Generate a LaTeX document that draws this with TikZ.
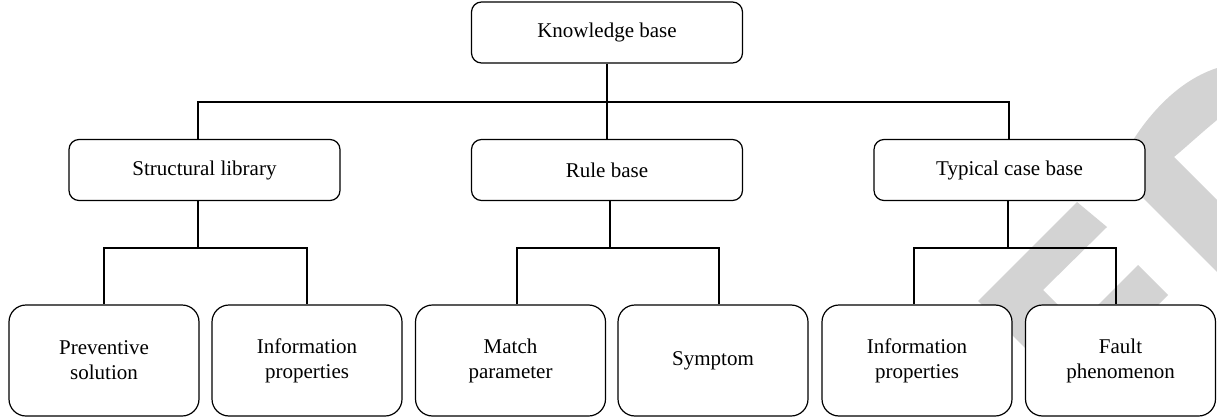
\documentclass[tikz,border=0pt]{standalone}
\usepackage{fontspec}
\setmainfont{Liberation Serif}
\definecolor{wmgray}{RGB}{211,211,211}
\begin{document}
\begin{tikzpicture}[x=1pt,y=-1pt,
  box/.style={draw, fill=white, line width=1.2pt, align=center, inner sep=0pt,
              font=\fontsize{21}{25}\selectfont},
  topbox/.style={box, rounded corners=10pt, minimum width=271pt, minimum height=61pt},
  leafbox/.style={box, rounded corners=17pt, minimum width=190pt, minimum height=111pt},
  link/.style={line width=1.2pt},
  wmshape/.style={fill=wmgray}
]
\useasboundingbox (0,0) rectangle (1217,417);

% publisher mark in the background
\fill[wmshape] (1217,68) .. controls (1180,80) and (1150,112) .. (1130,145)
  -- (1120,175) -- (1217,272) -- (1217,200) -- (1174,157)
  .. controls (1185,148) and (1200,134) .. (1217,120) -- cycle;
\fill[wmshape] (1077,202) -- (1107,227) -- (1043,290) -- (1106.5,353.5)
  -- (1068.5,391.5) -- (978,301) -- cycle;
\fill[wmshape] (1138,265) -- (1168,295) -- (1133,330) -- (1073,330) -- cycle;

% nodes
\node[topbox] (kb) at (607,32.5) {Knowledge base};

\node[topbox] (sl) at (204.5,170) {Structural library};
\node[topbox] (rb) at (607,170) {Rule base};
\node[topbox] (tc) at (1009.5,170) {Typical case base};

\node[leafbox] (ps)  at (104,360.5)   {Preventive\\solution};
\node[leafbox] (ip1) at (307,360.5)   {Information\\properties};
\node[leafbox] (mp)  at (510.5,360.5) {Match\\parameter};
\node[leafbox] (sy)  at (713,360.5)   {Symptom};
\node[leafbox] (ip2) at (917,360.5)   {Information\\properties};
\node[leafbox] (fp)  at (1120.5,360.5) {Fault\\phenomenon};

% junctions
\coordinate (j0) at (607,102);
\coordinate (j1) at (198,248);
\coordinate (j2) at (610,248);
\coordinate (j3) at (1008,248);

% top level
\draw[link] (kb.south) -- (j0);
\draw[link] ([xshift=-6.5pt]sl.north) |- (j0) -| ([xshift=-0.5pt]tc.north);
\draw[link] (j0) -- (rb.north);

% structural library
\draw[link] (j1 |- sl.south) -- (j1);
\draw[link] (ps.north) |- (j1) -| (ip1.north);

% rule base
\draw[link] (j2 |- rb.south) -- (j2);
\draw[link] ([xshift=6.5pt]mp.north) |- (j2) -| ([xshift=6pt]sy.north);

% typical case base
\draw[link] (j3 |- tc.south) -- (j3);
\draw[link] ([xshift=-3pt]ip2.north) |- (j3) -| ([xshift=-4.5pt]fp.north);
\end{tikzpicture}
\end{document}
